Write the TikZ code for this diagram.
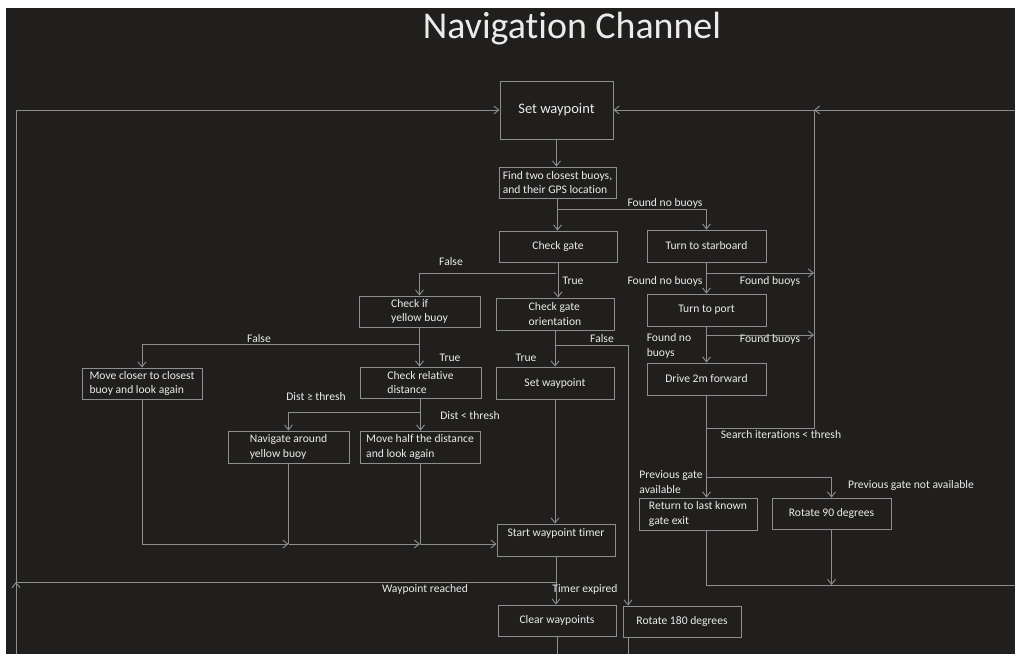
\documentclass[tikz,border=0pt]{standalone}
\usepackage{fontspec}
\setmainfont{Carlito}[Ligatures=NoCommon]
\usetikzlibrary{arrows.meta}
\definecolor{bgdark}{HTML}{201F1D}
\definecolor{linegray}{HTML}{8E8E8E}
\definecolor{textlight}{HTML}{EBEBEB}
\tikzset{
  stepbox/.style={draw=linegray, line width=0.9pt, text=textlight, align=left,
    font=\fontsize{11.6}{14.3}\selectfont, minimum width=118pt, minimum height=32pt, inner sep=2pt},
  lbl/.style={text=textlight, align=left, font=\fontsize{11.6}{14.3}\selectfont, inner sep=0pt},
  flow/.style={draw=linegray, line width=0.9pt},
}
\begin{document}
\begin{tikzpicture}[x=1pt, y=-1pt, >={Straight Barb[length=5pt,width=8pt]}]
	\useasboundingbox (0,0) rectangle (1015,654);
	\fill[white] (0,0) rectangle (1015,654);
	\fill[bgdark] (6,8) rectangle (1015,654);

	\node (title) [text=textlight, font=\fontsize{37.9}{40}\selectfont] at (572,29) {Navigation Channel};

	% boxes
	\node (setwp) [stepbox, minimum width=113pt, minimum height=58pt, font=\fontsize{14.5}{17}\selectfont] at (556.5,110) {Set waypoint};
	\node (findbuoys) [stepbox, minimum width=117pt, minimum height=31pt] at (557.5,182.5) {Find two closest buoys,\\and their GPS location};
	\node (checkgate) [stepbox, minimum height=31pt] at (558,246.5) {Check gate};
	\node (starboard) [stepbox, minimum width=119pt] at (706.5,246) {Turn to starboard};
	\node (orient) [stepbox] at (555,314) {Check gate\\orientation};
	\node (yellow) [stepbox, minimum width=121pt, minimum height=31pt] at (419.5,311.5) {Check if\\yellow buoy};
	\node (port) [stepbox, minimum width=119pt] at (706.5,310) {Turn to port};
	\node (moveclose) [stepbox, minimum width=120pt, minimum height=31pt] at (142,383.5) {Move closer to closest\\buoy and look again};
	\node (relative) [stepbox, minimum width=121pt, minimum height=31pt] at (420.5,382.5) {Check relative\\distance};
	\node (setwp2) [stepbox] at (555,383) {Set waypoint};
	\node (drive) [stepbox, minimum width=119pt] at (706.5,379) {Drive 2m forward};
	\node (navigate) [stepbox, minimum width=121pt] at (288.5,447) {Navigate around\\yellow buoy};
	\node (movehalf) [stepbox, minimum width=120pt] at (420,447) {Move half the distance\\and look again};
	\node (timer) [stepbox, text depth=14pt] at (556,540) {Start waypoint timer};
	\node (returngate) [stepbox] at (698,514) {Return to last known\\gate exit};
	\node (rot90) [stepbox, minimum width=119pt, minimum height=31pt] at (831.5,513.5) {Rotate 90 degrees};
	\node (clear) [stepbox, minimum height=31pt] at (557,620.5) {Clear waypoints};
	\node (rot180) [stepbox, minimum height=31pt] at (682,621.5) {Rotate 180 degrees};

	% junctions and loose ends
	\coordinate (jfind) at (557.5,209);
	\coordinate (jgate) at (556,273);
	\coordinate (jstar) at (706.5,273);
	\coordinate (jport) at (706.5,335);
	\coordinate (jdrive) at (706.5,428);
	\coordinate (jprev) at (706.5,477);
	\coordinate (jorient) at (555,345);
	\coordinate (jrot) at (628,345);
	\coordinate (jyellow) at (419.5,344);
	\coordinate (jrel) at (420.5,412);
	\coordinate (jtimer) at (556,582);
	\coordinate (jleft) at (16,582);
	\coordinate (ltop) at (16,110);
	\coordinate (lbottom) at (16,654);
	\coordinate (rtop) at (814,110);
	\coordinate (rbot) at (814,428);
	\coordinate (redge) at (1015,110);
	\coordinate (rexit) at (1015,585);
	\coordinate (mA) at (288.5,544);
	\coordinate (mB) at (420,544);
	\coordinate (cbottom) at (557,654);

	% connectors
	\draw[flow, ->] (setwp) -- (setwp |- findbuoys.north);
	\draw[flow, ->] (findbuoys) -- (findbuoys |- checkgate.north);
	\draw[flow, ->] (jfind) -| (starboard);
	\draw[flow, ->] (checkgate) -- (checkgate |- orient.north);
	\draw[flow, ->] (jgate) -| (yellow);
	\draw[flow, ->] (starboard) -- (port);
	\draw[flow, ->] (jstar) -- (jstar -| rtop);
	\draw[flow, ->] (port) -- (drive);
	\draw[flow, ->] (jport) -- (jport -| rtop);
	\draw[flow, ->] (drive) -- (drive |- returngate.north);
	\draw[flow] (jdrive) -- (rbot) -- (rtop);
	\draw[flow, ->] (rtop) -- (setwp);
	\draw[flow, ->] (redge) -- (rtop);
	\draw[flow, ->] (jprev) -| (rot90);
	\draw[flow] (drive |- returngate.south) |- (rexit);
	\draw[flow, ->] (rot90) -- (rot90 |- rexit);
	\draw[flow, ->] (orient) -- (setwp2);
	\draw[flow, ->] (jorient) -- (jrot) -- (jrot |- rot180.north);
	\draw[flow, ->] (setwp2) -- (setwp2 |- timer.north);
	\draw[flow, ->] (timer) -- (timer |- clear.north);
	\draw[flow] (jtimer) -- (jleft);
	\draw[flow, ->] (lbottom) -- (jleft);
	\draw[flow, ->] (jleft) |- (setwp);
	\draw[flow, ->] (yellow) -- (yellow |- relative.north);
	\draw[flow, ->] (jyellow) -| (moveclose);
	\draw[flow, ->] (relative) -- (relative |- movehalf.north);
	\draw[flow, ->] (jrel) -| (navigate);
	\draw[flow, ->] (moveclose) |- (mA);
	\draw[flow] (navigate) -- (mA);
	\draw[flow, ->] (mA) -- (mB);
	\draw[flow] (movehalf) -- (mB);
	\draw[flow, ->] (mB) -- (mB -| timer.west);
	\draw[flow] (clear) -- (clear |- cbottom);
	\draw[flow] (rot180.south -| jrot) -- (jrot |- cbottom);

	% labels
	\node (lblfind) [lbl] at (665,203) {Found no buoys};
	\node (lblgatef) [lbl] at (451,262) {False};
	\node (lblgatet) [lbl] at (573,281) {True};
	\node (lblstarno) [lbl] at (665,281) {Found no buoys};
	\node (lblstaryes) [lbl] at (770,281) {Found buoys};
	\node (lblportno) [lbl] at (669,346) {Found no\\buoys};
	\node (lblportyes) [lbl] at (770,339) {Found buoys};
	\node (lblorientf) [lbl] at (602,339) {False};
	\node (lblorientt) [lbl] at (526,358) {True};
	\node (lblyellowf) [lbl] at (259,339) {False};
	\node (lblyellowt) [lbl] at (450,358) {True};
	\node (lblfar) [lbl] at (316,397) {Dist ≥ thresh};
	\node (lblnear) [lbl] at (470,416) {Dist < thresh};
	\node (lblsearch) [lbl] at (781,435) {Search iterations < thresh};
	\node (lblprev) [lbl] at (671,482) {Previous gate\\available};
	\node (lblnoprev) [lbl] at (911,485) {Previous gate not available};
	\node (lblreached) [lbl] at (425,589) {Waypoint reached};
	\node (lblexpired) [lbl] at (585,589) {Timer expired};
\end{tikzpicture}
\end{document}
